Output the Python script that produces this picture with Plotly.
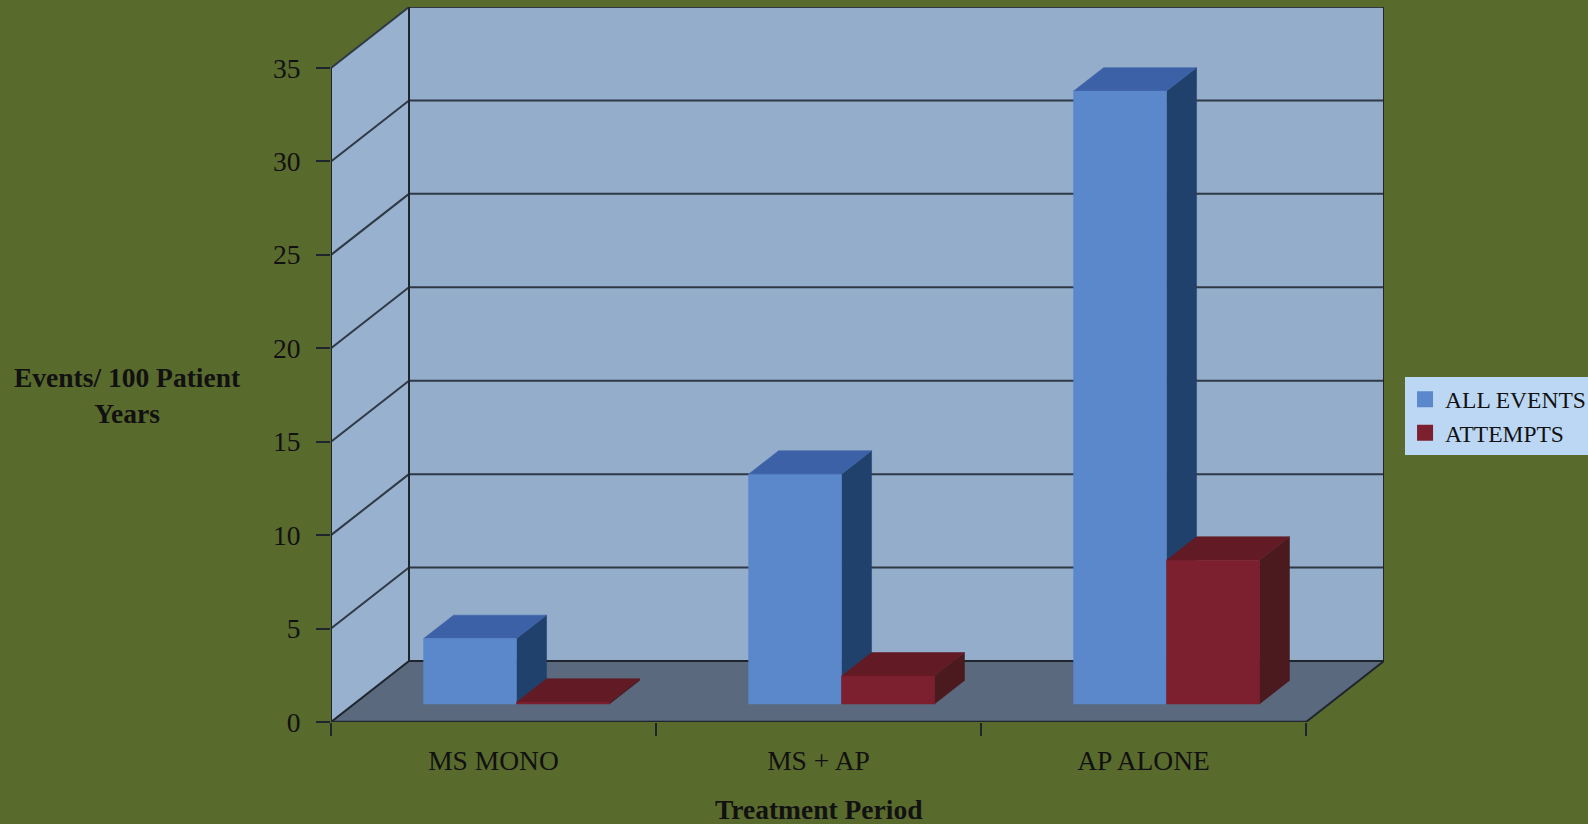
import plotly.graph_objects as go

# ---------------- data ----------------
categories = ["MS MONO", "MS + AP", "AP ALONE"]
all_events = [3.5, 12.3, 32.8]
attempts = [0.1, 1.5, 7.7]
series_names = ["ALL EVENTS", "ATTEMPTS"]
y_ticks = [0, 5, 10, 15, 20, 25, 30, 35]
y_max = 35

# ---------------- style ----------------
FONT = "Liberation Serif"
BG = "#596A2D"
BACK_WALL = "#93ADCB"
SIDE_WALL = "#97B1CF"
FLOOR = "#5A697E"
GRID = "#2F3944"
EDGE = "#1E252C"
BLUE = dict(front="#5B88CB", top="#3C61A6", side="#21416D")
RED = dict(front="#7C1F2E", top="#621B24", side="#4A1A1F")
FS = 27.5

DX = 78 / 325.0          # depth offset in category units
DY = 61 / 18.69          # depth offset in value units
F0, F1 = 0.295, 0.68     # bar depth span (fraction of full depth)
BW = 0.286               # bar width (category units)

ncat = len(categories)
XMAX = ncat + DX
YMAX = y_max + DY

fig = go.Figure()

shapes = []


def poly(pts, fill, line_color=None, width=0, layer="below"):
    path = "M " + " L ".join(f"{x},{y}" for x, y in pts) + " Z"
    return dict(type="path", path=path, xref="x", yref="y", fillcolor=fill,
                line=dict(color=line_color or fill, width=width), layer=layer)


def seg(p, q, color=GRID, width=2):
    return dict(type="line", x0=p[0], y0=p[1], x1=q[0], y1=q[1], xref="x", yref="y",
                line=dict(color=color, width=width), layer="below")


# walls and floor
shapes.append(poly([(DX, DY), (ncat + DX, DY), (ncat + DX, YMAX), (DX, YMAX)], BACK_WALL))
shapes.append(poly([(0, 0), (DX, DY), (DX, YMAX), (0, y_max)], SIDE_WALL))
shapes.append(poly([(0, 0), (ncat, 0), (ncat + DX, DY), (DX, DY)], FLOOR))

# gridlines
for v in y_ticks[1:]:
    shapes.append(seg((0, v), (DX, v + DY)))
    shapes.append(seg((DX, v + DY), (ncat + DX, v + DY)))

# wall / floor edges
shapes.append(seg((0, 0), (0, y_max), EDGE, 2))
shapes.append(seg((DX, DY), (DX, YMAX), EDGE, 2))
shapes.append(seg((ncat + DX, DY), (ncat + DX, YMAX), EDGE, 2))
shapes.append(seg((0, 0), (DX, DY), EDGE, 2))
shapes.append(seg((DX, DY), (ncat + DX, DY), EDGE, 2))
shapes.append(seg((0, 0), (ncat, 0), EDGE, 2.5))
shapes.append(seg((ncat, 0), (ncat + DX, DY), EDGE, 2))


def add_face(pts, color):
    xs = [p[0] for p in pts] + [pts[0][0]]
    ys = [p[1] for p in pts] + [pts[0][1]]
    fig.add_trace(go.Scatter(x=xs, y=ys, mode="lines", fill="toself", fillcolor=color,
                             line=dict(color=color, width=0.5), hoverinfo="skip",
                             showlegend=False))


def add_bar(xl, xr, v, col):
    x0l, x0r, y0 = xl + F0 * DX, xr + F0 * DX, F0 * DY
    x1l, x1r, y1 = xl + F1 * DX, xr + F1 * DX, F1 * DY
    add_face([(x0r, y0), (x1r, y1), (x1r, y1 + v), (x0r, y0 + v)], col["side"])
    add_face([(x0l, y0 + v), (x0r, y0 + v), (x1r, y1 + v), (x1l, y1 + v)], col["top"])
    add_face([(x0l, y0), (x0r, y0), (x0r, y0 + v), (x0l, y0 + v)], col["front"])


for i in range(ncat):
    c = i + 0.5
    add_bar(c - BW, c, all_events[i], BLUE)
    add_bar(c, c + BW, attempts[i], RED)

# legend entries
for name, col in zip(series_names, [BLUE, RED]):
    fig.add_trace(go.Scatter(x=[None], y=[None], mode="markers", name=name,
                             marker=dict(symbol="square", size=16, color=col["front"])))

# invisible trace for the tick-mark axis
fig.add_trace(go.Scatter(x=[0, ncat], y=[0, 0], xaxis="x2", mode="markers",
                         marker=dict(opacity=0), hoverinfo="skip", showlegend=False))

fig.update_layout(
    width=1588, height=824,
    margin=dict(l=331, r=204, t=7, b=102, autoexpand=False),
    paper_bgcolor=BG, plot_bgcolor=BG,
    font=dict(family=FONT, size=FS, color="#111111"),
    shapes=shapes,
    xaxis=dict(range=[0, XMAX], tickvals=[i + 0.5 for i in range(ncat)], ticktext=categories,
               ticks="outside", ticklen=14, tickcolor="rgba(0,0,0,0)", showgrid=False,
               zeroline=False, showline=False, tickfont=dict(size=FS, family=FONT),
               fixedrange=True, automargin=False),
    xaxis2=dict(range=[0, XMAX], overlaying="x", anchor="y", side="bottom",
                tickvals=list(range(ncat + 1)), ticks="outside", ticklen=13, tickwidth=2,
                tickcolor=EDGE, showticklabels=False, showgrid=False, zeroline=False,
                showline=False),
    yaxis=dict(range=[0, YMAX], tickvals=y_ticks, ticks="outside", ticklen=14, tickwidth=2,
               tickcolor=EDGE, showgrid=False, zeroline=False, showline=False,
               tickfont=dict(size=FS, family=FONT), ticklabelstandoff=10, fixedrange=True,
               automargin=False),
    legend=dict(x=1.02, y=0.482, xanchor="left", yanchor="top", bgcolor="#BCD7F3",
                borderwidth=0, font=dict(size=23.5, family=FONT, color="#111111"),
                itemsizing="trace"),
    annotations=[
        dict(text="<b>Events/ 100 Patient<br>Years</b>", xref="paper", yref="paper",
             x=(127 - 331) / 1053.0, y=(722 - 395) / 715.0, xanchor="center", yanchor="middle",
             showarrow=False, font=dict(size=FS, family=FONT, color="#111111")),
        dict(text="<b>Treatment Period</b>", xref="x", yref="paper",
             x=ncat / 2.0, y=(722 - 809) / 715.0, xanchor="center", yanchor="middle",
             showarrow=False, font=dict(size=FS, family=FONT, color="#111111")),
    ],
)

fig.write_html("out.html")
